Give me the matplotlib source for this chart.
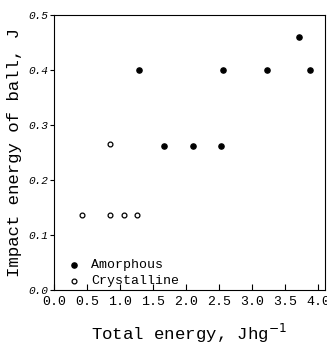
import matplotlib
matplotlib.use("Agg")
import matplotlib.pyplot as plt

amorph_x = [1.29, 2.56, 3.22, 3.87, 3.70, 1.66, 2.10, 2.52]
amorph_y = [0.40, 0.40, 0.40, 0.40, 0.46, 0.262, 0.262, 0.262]
cryst_x = [0.84, 0.43, 0.84, 1.06, 1.26]
cryst_y = [0.265, 0.136, 0.136, 0.136, 0.136]
xticks = [0.0, 0.5, 1.0, 1.5, 2.0, 2.5, 3.0, 3.5, 4.0]
yticks = [0.0, 0.1, 0.2, 0.3, 0.4, 0.5]

font = "Liberation Mono"
fig = plt.figure(figsize=(3.27, 3.44), dpi=100)
ax = fig.add_axes([54/327, 1-290/344, (325-54)/327, (290-15)/344])
ax.scatter(amorph_x, amorph_y, s=14, c="black", marker="o", label="Amorphous", zorder=3)
ax.scatter(cryst_x, cryst_y, s=12, facecolors="white", edgecolors="black", linewidths=0.9,
           marker="o", label="Crystalline", zorder=3)
ax.set_xlim(0, 4.1)
ax.set_ylim(0, 0.5)
ax.set_xticks(xticks)
ax.set_xticklabels([f"{v:.1f}" for v in xticks], family=font, fontsize=9.5)
ax.set_yticks(yticks)
ax.set_yticklabels([f"{v:.1f}" for v in yticks], family=font, fontsize=8, style="italic")
ax.tick_params(axis="x", direction="in", length=4, width=0.8, pad=4)
ax.tick_params(axis="y", direction="out", length=3, width=0.8, pad=1)
for s in ax.spines.values():
    s.set_linewidth(0.8)
ax.set_xlabel("Total energy, Jhg$^{-1}$", family=font, fontsize=12.5, labelpad=10)
ax.set_ylabel("Impact energy of ball, J", family=font, fontsize=12.5, labelpad=5)
leg = ax.legend(loc="lower left", bbox_to_anchor=(0.03, 0.0), frameon=False,
                prop={"family": font, "size": 9.5},
                handletextpad=0.6, borderaxespad=0.0, labelspacing=0.3, handlelength=1.4,
                borderpad=0.2)
fig.savefig("out.png", dpi=100)
